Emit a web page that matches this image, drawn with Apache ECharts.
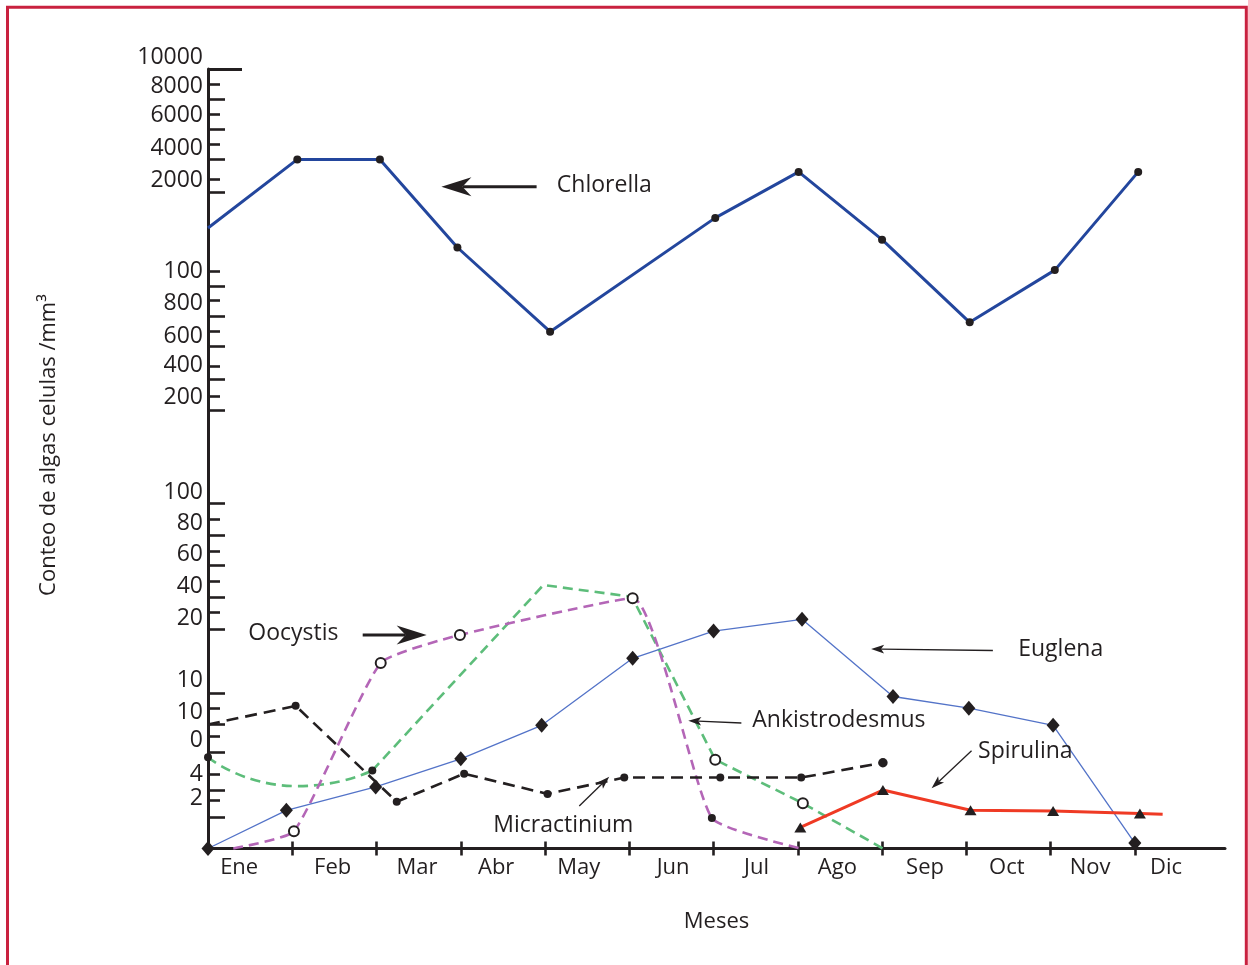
<!DOCTYPE html>
<html>
<head>
<meta charset="utf-8">
<script src="https://cdn.jsdelivr.net/npm/echarts@6/dist/echarts.min.js"></script>
<style>
  html, body { margin: 0; padding: 0; background: #ffffff; }
  #chart { width: 1248px; height: 965px; }
</style>
</head>
<body>
<div id="chart"></div>
<script>
// Months along the horizontal axis (x is measured in months from the start of Ene)
const months = ['Ene', 'Feb', 'Mar', 'Abr', 'May', 'Jun', 'Jul', 'Ago', 'Sep', 'Oct', 'Nov', 'Dic'];
const monthLabelPos = [0.37, 1.48, 2.48, 3.42, 4.40, 5.52, 6.51, 7.47, 8.51, 9.48, 10.47, 11.37];
const monthTicks = [1, 2, 3, 4, 5, 6, 7, 8, 9, 10, 11];

// Vertical scale: position 0 (baseline) .. 100 (top rule) with its printed tick labels
const yTickLabels = ['10000', '8000', '6000', '4000', '2000', '100', '800', '600', '400', '200',
                     '100', '80', '60', '40', '20', '10', '10', '0', '4', '2'];
const yTickLabelPos = [100, 97.76, 94.04, 89.80, 85.76, 74.02, 69.98, 65.68, 61.96, 57.92,
                       45.67, 41.76, 37.72, 33.68, 29.57, 21.62, 17.51, 13.85, 9.49, 6.4];
const yLongTicks = [96.15, 92.30, 88.45, 84.22, 72.16, 68.31, 64.46, 60.23, 56.25,
                    44.28, 40.13, 36.28, 32.26, 28.12, 19.91, 15.97, 12.29, 7.50, 4.00];
const yShortTicks = [98.04, 94.23, 90.38, 85.89, 74.00, 70.28, 66.39, 61.90, 57.96,
                     42.27, 38.08, 34.32, 30.25, 17.93, 14.34, 9.56, 6.13];
const yTopRule = [100];

// Series: [month position, scale position]
const chlorella = [[0, 79.6], [1.06, 88.4], [2.04, 88.4], [2.96, 77.1], [4.06, 66.3], [6.02, 80.9],
                   [7.01, 86.8], [8.00, 78.1], [9.04, 67.5], [10.05, 74.2], [11.04, 86.8]];
const euglena = [[0, 0], [0.93, 4.9], [1.99, 7.9], [3.00, 11.5], [3.96, 15.8], [5.04, 24.4],
                 [6.00, 27.9], [7.05, 29.4], [8.13, 19.5], [9.03, 18.0], [10.03, 15.8], [11.00, 0.7]];
const micractinium = [[0, 15.9], [1.04, 18.3], [2.24, 6.0], [3.04, 9.6], [4.03, 7.0],
                      [4.94, 9.1], [6.08, 9.1], [7.04, 9.1], [8.01, 11.0]];
const oocystis = [[0.30, 0], [1.02, 2.2], [2.05, 23.8], [2.99, 27.4], [5.04, 32.1], [5.98, 3.9], [7.03, 0]];
const ankistroCurve = [[0, 11.7], [1.06, 8.0], [1.95, 10.0]];
const ankistroLine = [[1.95, 10.0], [3.98, 33.8], [5.03, 32.3], [6.02, 11.4], [7.06, 5.8], [8.01, 0]];
const spirulina = [[7.03, 2.7], [8.01, 7.5], [9.05, 4.9], [10.03, 4.8], [11.06, 4.5], [11.33, 4.4]];

// Marker kind for each point of each series
const chlorellaMarks = ['none', 'dot', 'dot', 'dot', 'dot', 'dot', 'dot', 'dot', 'dot', 'dot', 'dot'];
const euglenaMarks = euglena.map(() => 'diamond');
const micractiniumMarks = ['none', 'dot', 'dot', 'dot', 'dot', 'dot', 'dot', 'dot', 'bigDot'];
const oocystisMarks = ['none', 'ring', 'ring', 'ring', 'ring', 'dot', 'none'];
const ankistroCurveMarks = ['dot', 'none', 'none'];
const ankistroLineMarks = ['dot', 'none', 'none', 'ring', 'ring', 'none'];
const spirulinaMarks = ['tri', 'tri', 'tri', 'tri', 'tri', 'none'];

// Callouts: label anchor, arrow tail and arrow tip in chart coordinates
const callouts = [
  { text: 'Chlorella', at: [4.14, 85.1], from: [3.90, 84.9], to: [2.77, 84.9], heavy: true },
  { text: 'Oocystis', at: [0.478, 27.6], from: [1.836, 27.4], to: [2.595, 27.4], heavy: true },
  { text: 'Euglena', at: [9.616, 25.5], from: [9.315, 25.4], to: [7.87, 25.6] },
  { text: 'Ankistrodesmus', at: [6.46, 16.4], from: [6.33, 16.1], to: [5.70, 16.4] },
  { text: 'Spirulina', at: [9.14, 12.4], from: [9.062, 12.55], to: [8.588, 7.72] },
  { text: 'Micractinium', at: [3.386, 2.9], from: [4.406, 5.45], to: [4.762, 9.21] }
];

const INK = '#231f20';
const FONT = '"Open Sans", "Noto Sans", sans-serif';
const X_MAX = 12.07;

const MARK = {
  none: { symbol: 'none' },
  dot: { symbol: 'circle', symbolSize: 8, itemStyle: { color: INK, borderWidth: 0 } },
  bigDot: { symbol: 'circle', symbolSize: 9.5, itemStyle: { color: INK, borderWidth: 0 } },
  ring: { symbol: 'circle', symbolSize: 10, itemStyle: { color: '#ffffff', borderColor: INK, borderWidth: 2 } },
  diamond: { symbol: 'diamond', symbolSize: [13, 15], itemStyle: { color: INK, borderWidth: 0 } },
  tri: { symbol: 'triangle', symbolSize: [12, 10], itemStyle: { color: INK, borderWidth: 0 } }
};

function points(values, marks) {
  return values.map((v, i) => Object.assign({ value: v }, MARK[marks[i]]));
}

function lineSeries(name, data, color, width, dash, smooth, z) {
  return {
    type: 'line', name: name, data: data, smooth: smooth, z: z,
    showSymbol: true, showAllSymbol: true, clip: false,
    lineStyle: { color: color, width: width, type: dash || 'solid', cap: 'butt' },
    itemStyle: { color: INK },
    emphasis: { disabled: true },
    animation: false
  };
}

function yLabelText(v) {
  let idx = 0, best = Infinity;
  yTickLabelPos.forEach((p, i) => { const d = Math.abs(p - v); if (d < best) { best = d; idx = i; } });
  return idx === 0 ? '{top|' + yTickLabels[0] + '}' : yTickLabels[idx];
}

// The printed labels sit close together, so they are shared out over the
// stacked left axes: the top label, then alternating ones.
const labelsTop = yTickLabelPos.slice(0, 1);
const labelsA = yTickLabelPos.filter((p, i) => i > 0 && i % 2 === 1);
const labelsB = yTickLabelPos.filter((p, i) => i > 0 && i % 2 === 0);

function yLabels(values) {
  return {
    show: true, customValues: values, margin: 5, hideOverlap: false,
    showMinLabel: true, showMaxLabel: true,
    formatter: yLabelText,
    fontSize: 23, color: INK, fontFamily: FONT,
    rich: { top: { fontSize: 23, color: INK, fontFamily: FONT, padding: [0, 0, 24, 0] } }
  };
}

const tickStyle = { color: INK, width: 2.6 };

const chart = echarts.init(document.getElementById('chart'), null, { renderer: 'canvas' });

const option = {
  backgroundColor: '#ffffff',
  animation: false,
  grid: { left: 208, top: 69, right: 23, bottom: 116.5, containLabel: false, outerBoundsMode: 'none' },
  xAxis: [
    {
      type: 'value', min: 0, max: X_MAX, position: 'bottom',
      axisLine: { show: true, onZero: false, lineStyle: { color: INK, width: 3 } },
      axisTick: { show: true, inside: false, length: 7, customValues: monthTicks, lineStyle: tickStyle },
      axisLabel: {
        show: true, customValues: monthLabelPos, margin: 8, hideOverlap: false,
        showMinLabel: true, showMaxLabel: true,
        formatter: v => months[Math.floor(v)],
        fontSize: 22, color: INK, fontFamily: FONT
      },
      splitLine: { show: false },
      name: 'Meses', nameLocation: 'middle', nameGap: 62,
      nameTextStyle: { fontSize: 22, color: INK, fontFamily: FONT }
    },
    {
      type: 'value', min: 0, max: X_MAX, position: 'bottom',
      axisLine: { show: false },
      axisTick: { show: true, inside: true, length: 7, customValues: monthTicks, lineStyle: tickStyle },
      axisLabel: { show: false },
      splitLine: { show: false }
    }
  ],
  yAxis: [
    {
      type: 'value', min: 0, max: 100, position: 'left', offset: 0,
      axisLine: { show: true, onZero: false, lineStyle: { color: INK, width: 3 } },
      axisTick: { show: true, inside: true, length: 17, customValues: yLongTicks, lineStyle: tickStyle },
      axisLabel: yLabels(labelsA),
      splitLine: { show: false }
    },
    {
      type: 'value', min: 0, max: 100, position: 'left', offset: 0,
      axisLine: { show: false },
      axisTick: { show: true, inside: true, length: 12, customValues: yShortTicks, lineStyle: tickStyle },
      axisLabel: yLabels(labelsB),
      splitLine: { show: false }
    },
    {
      type: 'value', min: 0, max: 100, position: 'left', offset: 0,
      axisLine: { show: false },
      axisTick: { show: true, inside: true, length: 34, customValues: yTopRule, lineStyle: { color: INK, width: 3 } },
      axisLabel: yLabels(labelsTop),
      splitLine: { show: false }
    }
  ],
  series: [
    lineSeries('Ankistrodesmus', points(ankistroCurve, ankistroCurveMarks), '#5dbd7a', 2.6, [10, 6], 0.6, 2),
    lineSeries('Ankistrodesmus', points(ankistroLine, ankistroLineMarks), '#5dbd7a', 2.6, [10, 6], false, 2),
    lineSeries('Oocystis', points(oocystis, oocystisMarks), '#b466b7', 2.6, [10, 6], 0.15, 3),
    lineSeries('Micractinium', points(micractinium, micractiniumMarks), INK, 2.6, [12, 7], false, 4),
    lineSeries('Euglena', points(euglena, euglenaMarks), '#5373c8', 1.3, null, false, 5),
    lineSeries('Spirulina', points(spirulina, spirulinaMarks), '#ef3a24', 3, null, false, 6),
    lineSeries('Chlorella', points(chlorella, chlorellaMarks), '#23469d', 3, null, false, 6)
  ]
};

chart.setOption(option);

// Callout arrows and texts placed through the grid's own coordinate conversion
function toPx(p) { return chart.convertToPixel({ gridIndex: 0 }, p); }

function arrowShapes(a, b, heavy) {
  const dx = b[0] - a[0], dy = b[1] - a[1];
  const len = Math.hypot(dx, dy), ux = dx / len, uy = dy / len, nx = -uy, ny = ux;
  const L = heavy ? 30 : 13, W = heavy ? 9.5 : 4.3, N = heavy ? 21 : 10;
  const back = [b[0] - ux * L, b[1] - uy * L];
  const notch = [b[0] - ux * N, b[1] - uy * N];
  return [
    { type: 'line', z: 50, silent: true,
      shape: { x1: a[0], y1: a[1], x2: notch[0], y2: notch[1] },
      style: { stroke: INK, lineWidth: heavy ? 3 : 1.3 } },
    { type: 'polygon', z: 50, silent: true,
      shape: { points: [b, [back[0] + nx * W, back[1] + ny * W], notch, [back[0] - nx * W, back[1] - ny * W]] },
      style: { fill: INK } }
  ];
}

const graphics = [
  { type: 'rect', z: 60, silent: true,
    shape: { x: 7.5, y: 7.3, width: 1238.8, height: 1000 },
    style: { fill: 'none', stroke: '#c9213f', lineWidth: 3 } },
  { type: 'text', z: 50, silent: true, x: 49, y: 445, rotation: Math.PI / 2,
    style: { text: 'Conteo de algas celulas /mm³', fontSize: 22, fontFamily: FONT, fill: INK,
             align: 'center', verticalAlign: 'middle' } }
];

callouts.forEach(c => {
  const at = toPx(c.at);
  graphics.push({ type: 'text', z: 50, silent: true, x: at[0], y: at[1],
    style: { text: c.text, fontSize: 23, fontFamily: FONT, fill: INK, align: 'left', verticalAlign: 'middle' } });
  arrowShapes(toPx(c.from), toPx(c.to), c.heavy).forEach(g => graphics.push(g));
});

chart.setOption({ graphic: graphics });
</script>
</body>
</html>
